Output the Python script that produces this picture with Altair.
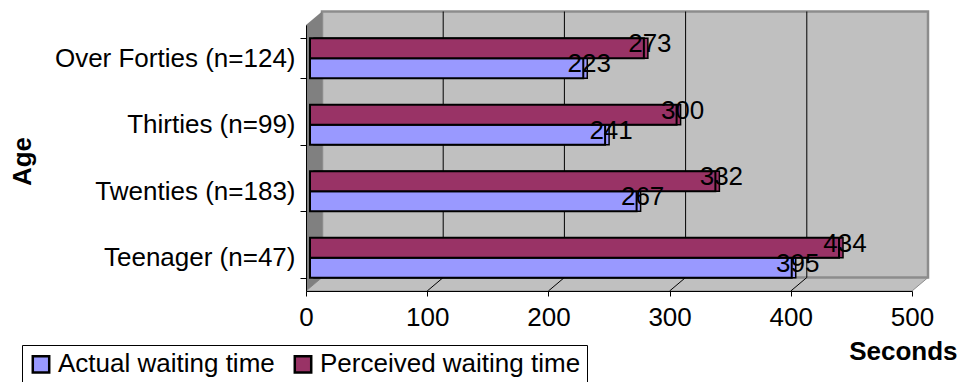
import altair as alt
import pandas as pd

# Waiting-time survey: actual vs perceived wait, by age group
categories = ["Over Forties (n=124)", "Thirties (n=99)", "Twenties (n=183)", "Teenager (n=47)"]
actual = [223, 241, 267, 395]
perceived = [273, 300, 332, 434]
series = ["Actual waiting time", "Perceived waiting time"]
x_ticks = [0, 100, 200, 300, 400, 500]
grid_ticks = [100, 200, 300, 400]

BLUE = "#9999FF"
MAROON = "#993366"
WALL = "#C0C0C0"
WALL_EDGE = "#8C8C8C"
SIDE = "#808080"
FONT = "Liberation Sans"

PLOT_W, PLOT_H = 606, 266
X_MAX = 500
# oblique depth of the pseudo-3D frame, in pixels
DEPTH_X_PX, DEPTH_Y_PX = 16, 13.5
dx = DEPTH_X_PX * X_MAX / PLOT_W     # depth shift in axis units
dy = DEPTH_Y_PX / PLOT_H             # depth shift as a fraction of height

rows = []
for cat, a, p in zip(categories, actual, perceived):
    rows.append({"Age": cat, "Series": series[0], "Seconds": a})
    rows.append({"Age": cat, "Series": series[1], "Seconds": p})
bars_df = pd.DataFrame(rows)

x_scale = alt.Scale(domain=[0, X_MAX], nice=False)
h_scale = alt.Scale(domain=[0, 1], nice=False, zero=False)

x_axis = alt.Axis(
    values=x_ticks, grid=False, title="Seconds",
    titleFont=FONT, titleFontSize=26, titleFontWeight="bold", titleColor="black",
    titleX=651, titleY=60, titleAlign="right", titleBaseline="middle",
    labelFont=FONT, labelFontSize=26, labelColor="black", labelPadding=8,
    labelFlush=False, tickSize=5, tickColor="black", domainColor="black",
    zindex=1,
)


def xq(field):
    return alt.X(field, scale=x_scale, axis=x_axis, title="Seconds")


# ---- frame: floor, back wall, side wall, grid ----
floor_df = pd.DataFrame({
    "x": [0, dx, X_MAX, X_MAX + dx],
    "lo": [0, 0, 0, dy],
    "hi": [0, dy, dy, dy],
})
floor = alt.Chart(floor_df).mark_area(
    orient="vertical", fill=WALL, stroke=WALL_EDGE, strokeWidth=1
).encode(
    x=xq("x:Q"),
    y=alt.Y("lo:Q", scale=h_scale, axis=None),
    y2="hi:Q",
)

wall_df = pd.DataFrame({"x": [dx], "x2": [X_MAX + dx], "lo": [dy], "hi": [1 + dy]})
wall = alt.Chart(wall_df).mark_rect(
    fill=WALL, stroke=WALL_EDGE, strokeWidth=2.5
).encode(
    x=xq("x:Q"),
    x2="x2:Q",
    y=alt.Y("lo:Q", scale=h_scale, axis=None),
    y2="hi:Q",
)

side_df = pd.DataFrame({"x": [0, dx], "lo": [0, dy], "hi": [1, 1 + dy]})
side = alt.Chart(side_df).mark_area(orient="vertical", fill=SIDE).encode(
    x=xq("x:Q"),
    y=alt.Y("lo:Q", scale=h_scale, axis=None),
    y2="hi:Q",
)

grid_df = pd.DataFrame({
    "x": [t + dx for t in grid_ticks],
    "lo": [dy] * len(grid_ticks),
    "hi": [1 + dy] * len(grid_ticks),
})
grid = alt.Chart(grid_df).mark_rule(color="black", strokeWidth=1).encode(
    x=xq("x:Q"),
    y=alt.Y("lo:Q", scale=h_scale, axis=None),
    y2="hi:Q",
)

floor_lines_df = pd.DataFrame({
    "x": grid_ticks,
    "x2": [t + dx for t in grid_ticks],
    "lo": [0] * len(grid_ticks),
    "hi": [dy] * len(grid_ticks),
})
floor_lines = alt.Chart(floor_lines_df).mark_rule(color="black", strokeWidth=1).encode(
    x=xq("x:Q"),
    x2="x2:Q",
    y=alt.Y("lo:Q", scale=h_scale, axis=None),
    y2="hi:Q",
)

frame = alt.layer(floor, wall, side, grid, floor_lines)

# ---- bars ----
y_enc = alt.Y(
    "Age:N",
    sort=categories,
    scale=alt.Scale(paddingInner=0.4, paddingOuter=0.2),
    axis=alt.Axis(
        title="Age", titleFont=FONT, titleFontSize=26, titleFontWeight="bold",
        titleColor="black", titleX=-284, titleY=136, titleAlign="center",
        titleBaseline="middle",
        labelFont=FONT, labelFontSize=26, labelColor="black", labelPadding=5,
        labelLimit=400, tickSize=6, tickColor="black", domainColor="black",
        tickBand="extent", grid=False, zindex=1,
    ),
)
yoff_enc = alt.YOffset(
    "Series:N", sort=[series[1], series[0]],
    scale=alt.Scale(paddingInner=0, paddingOuter=0),
)
color_enc = alt.Color(
    "Series:N",
    scale=alt.Scale(domain=series, range=[BLUE, MAROON]),
    legend=alt.Legend(
        title=None, orient="none", legendX=-284, legendY=320,
        direction="horizontal", symbolType="square", symbolSize=270,
        symbolStrokeColor="black", symbolStrokeWidth=2.5,
        labelFont=FONT, labelFontSize=26, labelColor="black", labelLimit=400,
        labelOffset=4, columnPadding=14, padding=6,
        strokeColor="black", fillColor="white",
    ),
)

base = alt.Chart(bars_df)

# faces seen in depth (top and right), offset up and to the right
bar_depth = base.mark_bar(
    stroke="black", strokeWidth=1.5, xOffset=11, x2Offset=8, yOffset=-8
).encode(
    x=xq("Seconds:Q"), x2=alt.X2(datum=0), y=y_enc, yOffset=yoff_enc,
    color=color_enc,
)

bar_front = base.mark_bar(
    stroke="black", strokeWidth=2, xOffset=7, x2Offset=4, yOffset=-4
).encode(
    x=xq("Seconds:Q"), x2=alt.X2(datum=0), y=y_enc, yOffset=yoff_enc,
    color=color_enc,
)

value_labels = base.mark_text(
    dx=13, dy=-4, font=FONT, fontSize=26, color="black",
    align="center", baseline="middle",
).encode(
    x=xq("Seconds:Q"), y=y_enc, yOffset=yoff_enc, text=alt.Text("Seconds:Q"),
)

bars = alt.layer(bar_depth, bar_front, value_labels)

chart = alt.layer(frame, bars).resolve_scale(y="independent").properties(
    width=PLOT_W,
    height=PLOT_H,
    padding={"left": 306, "top": 25, "right": 47, "bottom": 91},
    autosize=alt.AutoSizeParams(type="none"),
    background="white",
).configure_view(stroke=None)

chart.save("out.html", embed_options={"renderer": "svg", "actions": False})
